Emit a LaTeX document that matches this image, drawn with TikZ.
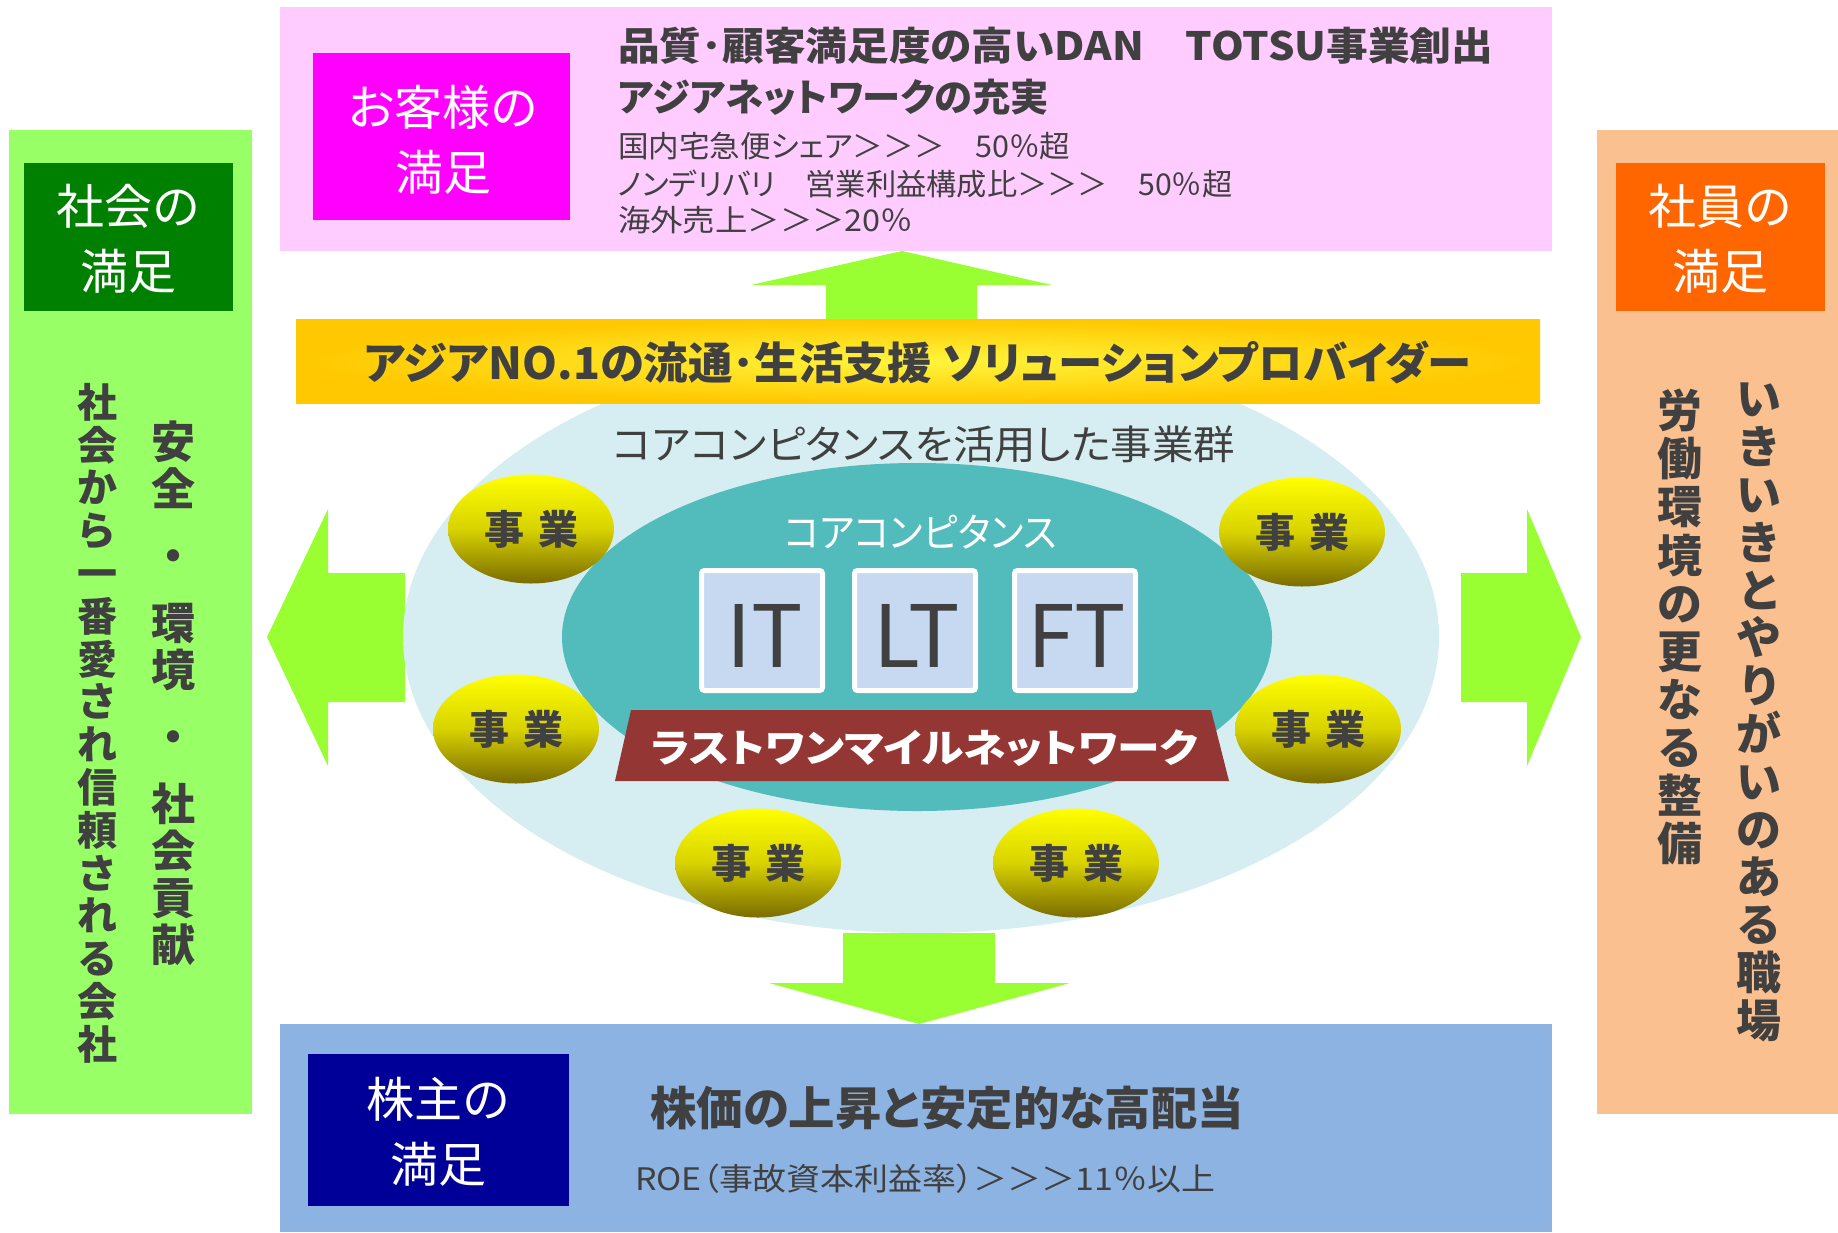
\documentclass[tikz,border=0pt]{standalone}
\usepackage{fontspec}
\usepackage{graphicx}
\setmainfont{Noto Sans CJK JP}[RawFeature=+palt]
\newcommand\fitw[2]{\resizebox{#1}{\height}{#2}}
\usetikzlibrary{shapes.geometric}
\definecolor{pinkbg}{HTML}{FFCCFF}
\definecolor{magentab}{HTML}{FF00FF}
\definecolor{greenbg}{HTML}{99FF66}
\definecolor{darkgreen}{HTML}{008000}
\definecolor{orangebg}{HTML}{FAC090}
\definecolor{orangeb}{HTML}{FF6600}
\definecolor{bluebg}{HTML}{8DB3E2}
\definecolor{navyb}{HTML}{000099}
\definecolor{arrowg}{HTML}{99FF33}
\definecolor{lightcy}{HTML}{D6EEF1}
\definecolor{tealc}{HTML}{52BBBB}
\definecolor{boxblue}{HTML}{C6D9F1}
\definecolor{redbar}{HTML}{943634}
\definecolor{txtgray}{HTML}{404040}
\definecolor{banO}{HTML}{FFC800}
\definecolor{banY}{HTML}{FFF53C}
\definecolor{yelT}{HTML}{FFFF00}
\definecolor{yelM}{HTML}{D8D200}
\definecolor{yelB}{HTML}{7A6C00}
\tikzset{
  hdr/.style={text=white, align=center, inner sep=0pt, font=\fontsize{48}{65}\selectfont},
  ttl/.style={text=txtgray, anchor=west, inner sep=0pt},
  vcol/.style={text=txtgray, align=center, anchor=north, inner sep=0pt},
  jigyo/.style={ellipse, minimum width=166pt, minimum height=109pt, inner sep=0pt,
    top color=yelT, bottom color=yelB, middle color=yelM, text=txtgray,
    font=\bfseries\fontsize{40}{40}\selectfont},
  tech/.style={rectangle, rounded corners=3pt, draw=white, line width=5pt, fill=boxblue,
    minimum width=121pt, minimum height=120pt},
  techtxt/.style={text=txtgray, inner sep=0pt, font=\fontsize{86}{86}\selectfont},
  blockarrow/.style={fill=arrowg},
}
\begin{document}
\begin{tikzpicture}[x=1pt,y=-1pt]
\useasboundingbox (0,0) rectangle (1838,1232);
% panels
\fill[pinkbg] (280,7) rectangle (1552,251);
\fill[magentab] (313,53) rectangle (570,220);
\fill[greenbg] (9,130) rectangle (252,1114);
\fill[darkgreen] (24,163) rectangle (233,311);
\fill[orangebg] (1597,130) rectangle (1838,1114);
\fill[orangeb] (1616,163) rectangle (1825,311);
\fill[bluebg] (280,1024) rectangle (1552,1232);
\fill[navyb] (308,1054) rectangle (569,1206);
% block arrows
\fill[blockarrow] (826,319) -- (826,285) -- (751,285) -- (902,251) -- (1052,285) -- (977,285) -- (977,319) -- cycle;
\fill[blockarrow] (843,933) -- (843,983) -- (769,983) -- (919,1024) -- (1070,983) -- (995,983) -- (995,933) -- cycle;
\fill[blockarrow] (405,573) -- (328,573) -- (328,509) -- (267,637) -- (328,766) -- (328,702) -- (405,702) -- cycle;
\fill[blockarrow] (1461,573) -- (1527,573) -- (1527,509) -- (1581,637) -- (1527,766) -- (1527,702) -- (1461,702) -- cycle;
% ellipses
\fill[lightcy] (921,637) ellipse [x radius=518pt, y radius=296pt];
\fill[tealc] (917,637) ellipse [x radius=355pt, y radius=174pt];
% banner
\shade[shading=radial, inner color=banY, outer color=banO] (296,319) rectangle (1540,403);
\node[ttl, anchor=center, font=\bfseries\fontsize{44}{44}\selectfont] (banner) at (918,362)
  {\fitw{1107pt}{アジアNO.1の流通･生活支援 ソリューションプロバイダー}};
% headers
\node[hdr] (hcust) at (443,139.5) {お客様の\\満足};
\node[hdr] (hsoc) at (128,239) {社会の\\満足};
\node[hdr] (hemp) at (1720,239) {社員の\\満足};
\node[hdr] (hshr) at (438,1131.5) {株主の\\満足};
% top texts
\node[ttl, font=\bfseries\fontsize{39}{39}\selectfont] (t1) at (618,46) {\fitw{875pt}{品質･顧客満足度の高いDAN　TOTSU事業創出}};
\node[ttl, font=\bfseries\fontsize{38}{38}\selectfont] (t2) at (618,97) {\fitw{431pt}{アジアネットワークの充実}};
\node[ttl, font=\fontsize{30}{30}\selectfont] (t3) at (618,146) {\fitw{452pt}{国内宅急便シェア＞＞＞　50％超}};
\node[ttl, font=\fontsize{30}{30}\selectfont] (t4) at (618,184) {\fitw{614pt}{ノンデリバリ　営業利益構成比＞＞＞　50％超}};
\node[ttl, font=\fontsize{30}{30}\selectfont] (t5) at (618,220) {\fitw{295pt}{海外売上＞＞＞20％}};
% bottom texts
\node[ttl, font=\bfseries\fontsize{46}{46}\selectfont] (b1) at (650,1108) {\fitw{594pt}{株価の上昇と安定的な高配当}};
\node[ttl, font=\fontsize{31}{31}\selectfont] (b2) at (635,1179) {\fitw{580pt}{ROE（事故資本利益率）＞＞＞11％以上}};
% vertical texts
\node[vcol, font=\bfseries\fontsize{44}{47}\selectfont] (v1) at (173.5,421)
  {安\\全\\[20pt]・\\[20pt]環\\境\\[20pt]・\\[20pt]社\\会\\貢\\献};
\node[vcol, font=\bfseries\fontsize{40}{42.8}\selectfont] (v2) at (97,383)
  {社\\会\\か\\ら\\一\\番\\愛\\さ\\れ\\信\\頼\\さ\\れ\\る\\会\\社};
\node[vcol, font=\bfseries\fontsize{45}{47.8}\selectfont] (v3) at (1759,383)
  {い\\き\\い\\き\\と\\や\\り\\が\\い\\の\\あ\\る\\職\\場};
\node[vcol, font=\bfseries\fontsize{45}{48.1}\selectfont] (v4) at (1680,389)
  {労\\働\\環\\境\\の\\更\\な\\る\\整\\備};
% center texts
\node[text=txtgray, inner sep=0pt, font=\fontsize{40}{40}\selectfont] (grp) at (924,444)
  {\fitw{622pt}{コアコンピタンスを活用した事業群}};
\node[text=white, inner sep=0pt, font=\fontsize{40}{40}\selectfont] (core) at (920.5,532)
  {\fitw{273pt}{コアコンピタンス}};
% tech boxes
\node[tech] (itb) at (762,630.5) {};
\node[tech] (ltb) at (915,630.5) {};
\node[tech] (ftb) at (1075,630.5) {};
\node[techtxt] (itt) at (764.5,636) {IT};
\node[techtxt] (ltt) at (916.5,636) {LT};
\node[techtxt] (ftt) at (1077,636) {FT};
% last one mile bar
\fill[redbar] (631,710) -- (1211,710) -- (1229,781) -- (615,781) -- cycle;
\node[text=white, inner sep=0pt, font=\bfseries\fontsize{39}{39}\selectfont] (lom) at (924.5,748)
  {\fitw{547pt}{ラストワンマイルネットワーク}};
% business ellipses
\node[jigyo] (j1) at (531,529) {事\hspace{0.35em}業};
\node[jigyo] (j2) at (1302,532) {事\hspace{0.35em}業};
\node[jigyo] (j3) at (516,729) {事\hspace{0.35em}業};
\node[jigyo] (j4) at (1318,729) {事\hspace{0.35em}業};
\node[jigyo] (j5) at (758,863) {事\hspace{0.35em}業};
\node[jigyo] (j6) at (1076,863) {事\hspace{0.35em}業};
\end{tikzpicture}
\end{document}
